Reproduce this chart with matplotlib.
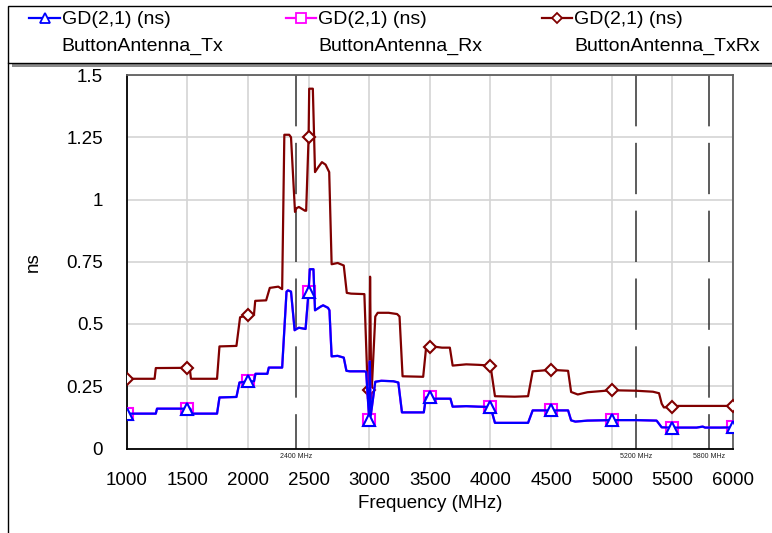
#!/usr/bin/env python3

import matplotlib
matplotlib.use("Agg")
import matplotlib.pyplot as plt
from matplotlib.lines import Line2D
from matplotlib.patches import Rectangle

plt.rcParams['font.family'] = ['Liberation Sans', 'DejaVu Sans']

# GD(2,1) of ButtonAntenna_Tx (ns); ButtonAntenna_Rx lies on top of it in the picture
tx_freq = [1000, 1240, 1250, 1500, 1525, 1535, 1745, 1765, 1905, 1930, 2000, 2050,
           2062, 2160, 2172, 2282, 2318, 2330, 2355, 2385, 2400, 2420, 2475, 2500,
           2510, 2540, 2553, 2600, 2620, 2660, 2672, 2690, 2740, 2790, 2812, 2840,
           2960, 2975, 3000, 3005, 3012, 3050, 3100, 3200, 3240, 3270, 3450, 3468,
           3500, 3520, 3670, 3688, 3800, 3900, 4000, 4037, 4310, 4348, 4500, 4640,
           4665, 4700, 4800, 5000, 5200, 5370, 5412, 5500, 5700, 5750, 5770, 5900,
           6000]
tx_ns = [0.14, 0.14, 0.16, 0.16, 0.16, 0.14, 0.14, 0.205, 0.207, 0.265, 0.27, 0.27,
         0.30, 0.30, 0.325, 0.325, 0.63, 0.635, 0.63, 0.475, 0.48, 0.485, 0.48, 0.63,
         0.72, 0.72, 0.555, 0.57, 0.575, 0.565, 0.555, 0.37, 0.372, 0.365, 0.312, 0.31,
         0.31, 0.308, 0.113, 0.35, 0.13, 0.268, 0.272, 0.27, 0.265, 0.145, 0.145, 0.205,
         0.207, 0.2, 0.2, 0.168, 0.17, 0.168, 0.167, 0.103, 0.103, 0.153, 0.153, 0.153,
         0.113, 0.108, 0.112, 0.114, 0.114, 0.112, 0.085, 0.084, 0.084, 0.088, 0.084, 0.084,
         0.085]
rx_freq = list(tx_freq)
rx_ns = list(tx_ns)

# GD(2,1) of ButtonAntenna_TxRx (ns)
txrx_freq = [1000, 1230, 1240, 1500, 1520, 1530, 1745, 1765, 1905, 1935, 2000, 2050,
             2060, 2150, 2180, 2250, 2282, 2300, 2340, 2355, 2388, 2400, 2420, 2470,
             2480, 2500, 2505, 2535, 2553, 2580, 2610, 2640, 2670, 2690, 2740, 2790,
             2815, 2850, 2960, 2990, 3000, 3007, 3017, 3050, 3070, 3160, 3230, 3250,
             3275, 3445, 3468, 3500, 3520, 3600, 3665, 3688, 3800, 3900, 4000, 4037,
             4200, 4310, 4348, 4500, 4640, 4665, 4720, 4800, 5000, 5200, 5340, 5390,
             5412, 5430, 5500, 5550, 6000]
txrx_ns = [0.28, 0.28, 0.323, 0.324, 0.322, 0.28, 0.28, 0.41, 0.412, 0.527, 0.536, 0.54,
           0.593, 0.595, 0.645, 0.65, 0.64, 1.26, 1.26, 1.25, 0.95, 0.965, 0.97, 0.955,
           0.955, 1.25, 1.445, 1.445, 1.11, 1.13, 1.15, 1.14, 1.11, 0.74, 0.745, 0.735,
           0.625, 0.622, 0.62, 0.2, 0.235, 0.69, 0.2, 0.53, 0.545, 0.545, 0.54, 0.53,
           0.29, 0.288, 0.4, 0.407, 0.41, 0.405, 0.405, 0.333, 0.338, 0.336, 0.333, 0.21,
           0.208, 0.21, 0.31, 0.316, 0.312, 0.227, 0.217, 0.226, 0.234, 0.232, 0.228, 0.222,
           0.18, 0.165, 0.167, 0.171, 0.171]

marker_freqs = [1000, 1500, 2000, 2500, 3000, 3500, 4000, 4500, 5000, 5500, 6000]
band_marks = [2400, 5200, 5800]

series = [
    ("ButtonAntenna_TxRx", txrx_freq, txrx_ns, '#800000', 'D', 6.5, 3),
    ("ButtonAntenna_Rx", rx_freq, rx_ns, '#ff00ff', 's', 8, 4),
    ("ButtonAntenna_Tx", tx_freq, tx_ns, '#0000ff', '^', 8, 5),
]

W, H = 772, 533
fig = plt.figure(figsize=(W / 100, H / 100), dpi=100)
ax = fig.add_axes([126.7 / W, (H - 448.5) / H, (733 - 126.7) / W, (448.5 - 75) / H])

for name, fr, vals, color, mk, ms, z in series:
    idx = [fr.index(f) for f in marker_freqs]
    ax.plot(fr, vals, color=color, lw=1.6, marker=mk, ms=ms, mfc='white',
            mec=color, mew=1.5, markevery=idx, zorder=z)

# band marker lines, dashes start at the top
for f in band_marks:
    ax.plot([f, f], [1, 0], transform=ax.get_xaxis_transform(), color='#303030',
            lw=1.1, dashes=(33.6, 10.8), zorder=2)
    ax.annotate(f"{f} MHz", (f, 0), xycoords=('data', 'axes fraction'),
                xytext=(0, -6), textcoords='offset points', ha='center', va='center',
                fontsize=5, color='#202020')

ax.set_xlim(1000, 6000)
ax.set_ylim(0, 1.5)
ax.set_xticks(range(1000, 6001, 500))
ax.set_yticks([0, 0.25, 0.5, 0.75, 1, 1.25, 1.5])
ax.set_yticklabels(['0', '0.25', '0.5', '0.75', '1', '1.25', '1.5'])
ax.tick_params(length=0, labelsize=13.5)
ax.tick_params(axis='x', pad=17)
ax.tick_params(axis='y', pad=17)
ax.grid(True, color='#d4d4d4', lw=1.2)
ax.set_axisbelow(True)
for side in ['left', 'bottom']:
    ax.spines[side].set_color('black')
    ax.spines[side].set_linewidth(1.3)
for side in ['top', 'right']:
    ax.spines[side].set_color('#606060')
    ax.spines[side].set_linewidth(1.3)

ax.set_xlabel("Frequency (MHz)", fontsize=13.5)
ax.xaxis.set_label_coords(0.5, -0.125)
ax.set_ylabel("ns", fontsize=13.5)
ax.yaxis.set_label_coords(-0.14, 0.5)

# legend box across the top, with its shadow
def fx(x):
    return x / W

def fy(y):
    return 1 - y / H

fig.patches.append(Rectangle((fx(12), fy(67)), 1, 4 / H, facecolor='#8a8a8a',
                             edgecolor='none', transform=fig.transFigure))
fig.patches.append(Rectangle((fx(8), fy(63)), 1, 57 / H, facecolor='white',
                             edgecolor='black', lw=1, transform=fig.transFigure))
fig.lines.append(Line2D([fx(8), fx(8)], [0, fy(63)], color='black', lw=1,
                        transform=fig.transFigure))

legend_x = {"ButtonAntenna_Tx": 29.5, "ButtonAntenna_Rx": 286, "ButtonAntenna_TxRx": 542}
for name, fr, vals, color, mk, ms, z in series:
    x0 = legend_x[name]
    fig.lines.append(Line2D([fx(x0), fx(x0 + 30)], [fy(18), fy(18)], color=color,
                            lw=1.6, transform=fig.transFigure))
    fig.lines.append(Line2D([fx(x0 + 15)], [fy(18)], color=color, marker=mk,
                            ms=ms - 1, mfc='white', mec=color, mew=1.3,
                            transform=fig.transFigure))
    fig.text(fx(x0 + 32), fy(19), "GD(2,1) (ns)", fontsize=14, va='center', ha='left')
    fig.text(fx(x0 + 32), fy(46), name, fontsize=14, va='center', ha='left')

fig.savefig("out.png", dpi=100)
